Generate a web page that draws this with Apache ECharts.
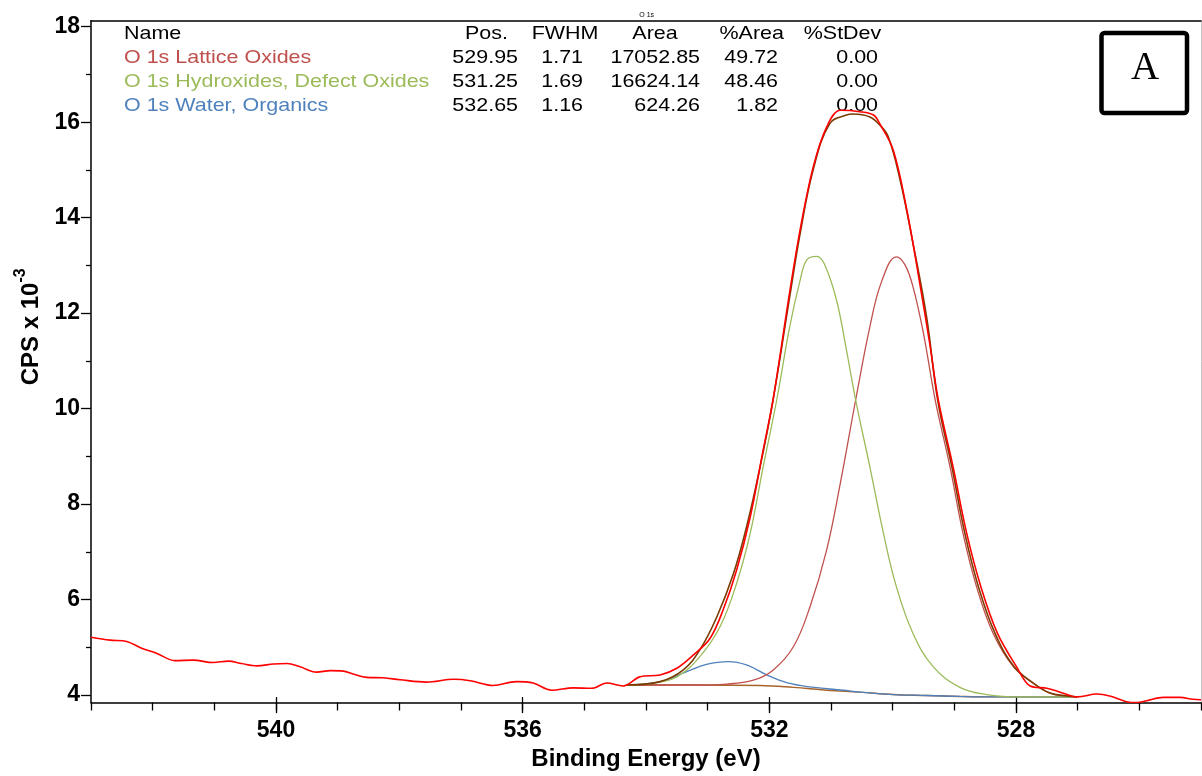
<!DOCTYPE html>
<html>
<head>
<meta charset="utf-8">
<title>O 1s</title>
<script src="https://cdn.jsdelivr.net/npm/echarts@6/dist/echarts.min.js"></script>
<style>
  html, body { margin: 0; padding: 0; background: #fff; }
  #chart { width: 1202px; height: 776px; }
</style>
</head>
<body>
<div id="chart"></div>
<script>
// Measured O 1s spectrum: binding energy (eV) and CPS x 10^-3
const measuredBE = [543.00, 542.69, 542.42, 542.18, 541.93, 541.64, 541.34, 541.02, 540.77, 540.56,
  540.31, 540.04, 539.82, 539.61, 539.34, 539.12, 538.91, 538.75, 538.53, 538.26,
  537.99, 537.56, 537.12, 536.85, 536.48, 536.10, 535.83, 535.53, 535.18, 534.88,
  534.64, 534.37, 534.10, 533.77, 533.50, 533.23, 532.96, 532.75, 532.53, 532.31,
  532.10, 531.94, 531.67, 531.50, 531.29, 531.07, 530.85, 530.53, 530.31, 530.21,
  529.99, 529.77, 529.56, 529.40, 529.26, 529.02, 528.80, 528.57, 528.30, 527.99,
  527.77, 527.50, 527.31, 527.10, 527.00, 526.69, 526.48, 526.21, 526.04, 525.88,
  525.61, 525.34, 525.13, 525.00];
const measuredCps = [5.21, 5.15, 5.12, 4.98, 4.87, 4.72, 4.73, 4.68, 4.71, 4.66,
  4.61, 4.65, 4.66, 4.59, 4.48, 4.51, 4.50, 4.44, 4.37, 4.36,
  4.32, 4.27, 4.33, 4.30, 4.20, 4.28, 4.25, 4.10, 4.15, 4.14,
  4.25, 4.19, 4.38, 4.42, 4.56, 4.84, 5.19, 5.78, 6.62, 7.73,
  9.13, 10.18, 12.44, 13.75, 15.05, 15.90, 16.25, 16.22, 16.15, 15.97,
  15.41, 14.16, 12.62, 11.37, 10.18, 8.78, 7.39, 6.27, 5.29, 4.59,
  4.19, 4.14, 4.07, 3.98, 3.96, 4.02, 3.98, 3.86, 3.84, 3.88,
  3.95, 3.95, 3.91, 3.90];

// Fit envelope
const envelopeBE = [534.31, 533.77, 533.40, 533.13, 532.85, 532.58, 532.37, 532.15, 531.94, 531.67,
  531.50, 531.29, 531.02, 530.75, 530.64, 530.37, 530.21, 530.07, 529.88, 529.67,
  529.45, 529.27, 529.04, 528.83, 528.61, 528.34, 528.03, 527.72, 527.45, 527.18, 527.01];
const envelopeCps = [4.21, 4.28, 4.52, 4.94, 5.64, 6.55, 7.52, 8.78, 10.18, 12.34,
  13.67, 15.00, 15.97, 16.15, 16.17, 16.11, 15.94, 15.69, 14.79, 13.46,
  11.92, 10.18, 8.78, 7.39, 6.27, 5.29, 4.59, 4.25, 4.04, 3.98, 3.96];

// O 1s Lattice Oxides component
const latticeBE = [534.31, 533.23, 532.69, 532.26, 531.94, 531.61, 531.34, 531.07, 530.85, 530.60,
  530.37, 530.18, 529.94, 529.80, 529.67, 529.50, 529.31, 529.07, 528.86, 528.64,
  528.37, 528.04, 527.72, 527.45, 527.18, 527.01];
const latticeCps = [4.21, 4.21, 4.23, 4.31, 4.52, 5.01, 5.85, 7.04, 8.43, 10.18,
  11.71, 12.66, 13.18, 13.01, 12.55, 11.57, 10.18, 8.78, 7.39, 6.27,
  5.29, 4.59, 4.25, 4.04, 3.98, 3.96];

// O 1s Hydroxides, Defect Oxides component
const hydroxideBE = [534.31, 533.88, 533.50, 533.13, 532.80, 532.53, 532.31, 532.10, 531.88, 531.67,
  531.50, 531.39, 531.23, 531.10, 530.91, 530.75, 530.60, 530.37, 530.15, 529.94,
  529.67, 529.34, 528.91, 528.48, 527.94, 527.01];
const hydroxideCps = [4.21, 4.25, 4.38, 4.80, 5.43, 6.34, 7.39, 8.78, 10.18, 11.71,
  12.69, 13.12, 13.19, 13.01, 12.27, 11.23, 10.18, 8.78, 7.39, 6.27,
  5.29, 4.59, 4.16, 4.01, 3.96, 3.96];

// O 1s Water, Organics component
const waterBE = [534.31, 533.77, 533.34, 533.02, 532.67, 532.37, 532.04, 531.72, 531.34, 530.80,
  530.53, 529.99, 529.45, 528.91, 528.37, 527.01];
const waterCps = [4.21, 4.28, 4.49, 4.64, 4.70, 4.63, 4.42, 4.26, 4.17, 4.10,
  4.06, 4.01, 3.99, 3.97, 3.96, 3.96];

// Shirley background
const backgroundBE = [534.31, 533.50, 532.15, 531.61, 531.07, 530.53, 529.99, 529.45, 528.91, 528.37, 527.01];
const backgroundCps = [4.21, 4.21, 4.20, 4.16, 4.10, 4.06, 4.01, 3.99, 3.97, 3.96, 3.96];

// Fit parameter table
const componentNames = ['O 1s Lattice Oxides', 'O 1s Hydroxides, Defect Oxides', 'O 1s Water, Organics'];
const componentPos = ['529.95', '531.25', '532.65'];
const componentFwhm = ['1.71', '1.69', '1.16'];
const componentArea = ['17052.85', '16624.14', '624.26'];
const componentPctArea = ['49.72', '48.46', '1.82'];
const componentStDev = ['0.00', '0.00', '0.00'];
const tableHeaders = ['Name', 'Pos.', 'FWHM', 'Area', '%Area', '%StDev'];

const componentColors = ['#c0504d', '#9bbb59', '#4f81bd'];

const SANS = '"Liberation Sans", Arial, sans-serif';
const SERIF = '"Liberation Serif", "Times New Roman", serif';

const pairs = (xs, ys) => xs.map((x, i) => [x, ys[i]]);

function curve(name, xs, ys, color, width, z, smooth) {
  return {
    type: 'line', name, xAxisIndex: 0, yAxisIndex: 0,
    data: pairs(xs, ys),
    symbol: 'none', showSymbol: false, smooth,
    lineStyle: { color, width }, z, silent: true, animation: false
  };
}

// Table text, slightly widened like the original plotting software
const tableFont = '18.5px ' + SANS;
const tableStretch = 1.16;
const rowY = [33.5, 57.7, 82, 106.2];
function tableText(text, x, y, align, fill) {
  return {
    type: 'text', x, y, scaleX: tableStretch, z: 1,
    style: { text, font: tableFont, fill, align, textAlign: align,
             verticalAlign: 'middle', textVerticalAlign: 'middle' }
  };
}
const numericColumns = [
  { head: tableHeaders[1], headX: 486.5, right: 518, values: componentPos },
  { head: tableHeaders[2], headX: 565, right: 583, values: componentFwhm },
  { head: tableHeaders[3], headX: 655, right: 700, values: componentArea },
  { head: tableHeaders[4], headX: 751.7, right: 778, values: componentPctArea },
  { head: tableHeaders[5], headX: 842.5, right: 878, values: componentStDev }
];
const tableElements = [tableText(tableHeaders[0], 124, rowY[0], 'left', '#000')];
componentNames.forEach((n, i) => tableElements.push(tableText(n, 124, rowY[i + 1], 'left', componentColors[i])));
numericColumns.forEach(col => {
  tableElements.push(tableText(col.head, col.headX, rowY[0], 'center', '#000'));
  col.values.forEach((v, i) => tableElements.push(tableText(v, col.right, rowY[i + 1], 'right', '#000')));
});

const axisBlack = { color: '#000', width: 1.5 };
const tickBlack = { color: '#000', width: 1.3 };
const tickLabel = { color: '#000', fontSize: 23, fontWeight: 'bold', fontFamily: SANS };
const titleText = { color: '#000', fontSize: 24, fontWeight: 'bold', fontFamily: SANS };

const option = {
  animation: false,
  backgroundColor: '#fff',
  grid: [
    { left: 91, right: 1, top: 20.7, bottom: 73.5, containLabel: false },   // plot area
    { left: 91, right: 1, top: 26.7, bottom: 81, containLabel: false },     // CPS scale
    { left: 276, right: 186, top: 20.7, bottom: 73.5, containLabel: false } // labelled energies
  ],
  xAxis: [
    { gridIndex: 0, type: 'value', min: 525, max: 543, interval: 1, inverse: true, position: 'bottom',
      axisLine: { show: true, onZero: false, lineStyle: axisBlack },
      axisTick: { show: true, length: 8, lineStyle: tickBlack },
      axisLabel: { show: false }, splitLine: { show: false } },
    { gridIndex: 0, type: 'value', min: 525, max: 543, inverse: true, position: 'top',
      axisLine: { show: true, onZero: false, lineStyle: axisBlack },
      axisTick: { show: false }, axisLabel: { show: false }, splitLine: { show: false } },
    { gridIndex: 1, type: 'value', min: 525, max: 543, inverse: true, show: false },
    { gridIndex: 2, type: 'value', min: 528, max: 540, interval: 4, inverse: true, position: 'bottom',
      axisLine: { show: false, onZero: false },
      axisTick: { show: true, length: 16, lineStyle: tickBlack },
      axisLabel: Object.assign({ margin: 22 }, tickLabel),
      splitLine: { show: false },
      name: 'Binding Energy (eV)', nameLocation: 'middle', nameGap: 49,
      nameTextStyle: titleText }
  ],
  yAxis: [
    { gridIndex: 0, type: 'value', min: 3.843, max: 18.126, position: 'left',
      axisLine: { show: true, onZero: false, lineStyle: axisBlack },
      axisTick: { show: false }, axisLabel: { show: false }, splitLine: { show: false } },
    { gridIndex: 0, type: 'value', min: 3.843, max: 18.126, position: 'right',
      axisLine: { show: true, onZero: false, lineStyle: { color: '#c4c4c4', width: 1 } },
      axisTick: { show: false }, axisLabel: { show: false }, splitLine: { show: false } },
    { gridIndex: 1, type: 'value', min: 4, max: 18, interval: 2, position: 'left',
      axisLine: { show: false, onZero: false },
      axisTick: { show: true, length: 10, lineStyle: tickBlack },
      minorTick: { show: true, splitNumber: 2, length: 5, lineStyle: tickBlack },
      axisLabel: Object.assign({ margin: 11, padding: [0, 0, 12, 0], verticalAlign: 'middle' }, tickLabel),
      splitLine: { show: false },
      name: '{m|CPS x 10}{s|-3}', nameLocation: 'middle', nameRotate: 90, nameGap: 38,
      nameTextStyle: {
        padding: [0, 0, 0, 68],
        rich: {
          m: { fontSize: 24, fontWeight: 'bold', fontFamily: SANS, color: '#000', lineHeight: 38 },
          s: { fontSize: 16, fontWeight: 'bold', fontFamily: SANS, color: '#000', verticalAlign: 'top' }
        }
      } },
    { gridIndex: 2, type: 'value', min: 0, max: 1, show: false }
  ],
  series: [
    curve('Background', backgroundBE, backgroundCps, '#a8642a', 1.4, 3, 0.4),
    curve(componentNames[2], waterBE, waterCps, componentColors[2], 1.3, 4, 0.4),
    curve(componentNames[0], latticeBE, latticeCps, componentColors[0], 1.3, 4, 0.4),
    curve(componentNames[1], hydroxideBE, hydroxideCps, componentColors[1], 1.3, 4, 0.4),
    curve('Envelope', envelopeBE, envelopeCps, '#7a3c00', 1.6, 5, 0.4),
    curve('O 1s', measuredBE, measuredCps, '#ff0000', 1.6, 6, 0.35)
  ],
  graphic: [
    { type: 'text', x: 646.7, y: 15, z: 1,
      style: { text: 'O 1s', font: '7px ' + SANS, fill: '#000', align: 'center', textAlign: 'center',
               verticalAlign: 'middle', textVerticalAlign: 'middle' } },
    ...tableElements,
    { type: 'rect', z: 10, shape: { x: 1101.5, y: 33, width: 85.5, height: 80, r: 3 },
      style: { fill: '#fff', stroke: '#000', lineWidth: 4.5 } },
    { type: 'text', x: 1145, y: 69, z: 11,
      style: { text: 'A', font: '39px ' + SERIF, fill: '#000', align: 'center', textAlign: 'center',
               verticalAlign: 'middle', textVerticalAlign: 'middle' } }
  ]
};

const chart = echarts.init(document.getElementById('chart'), null, { renderer: 'canvas' });
chart.setOption(option);
</script>
</body>
</html>
